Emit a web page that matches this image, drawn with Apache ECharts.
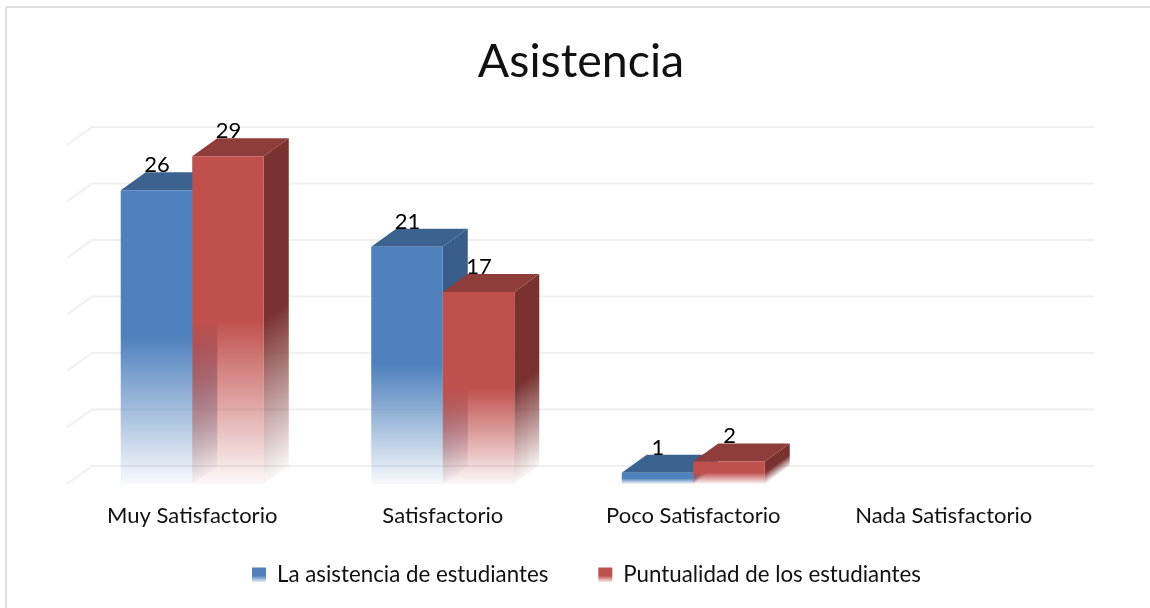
<!DOCTYPE html>
<html>
<head>
<meta charset="utf-8">
<style>html,body{margin:0;padding:0;background:#fff}#c{width:1150px;height:608px}</style>
<script src="https://cdn.jsdelivr.net/npm/echarts@6/dist/echarts.min.js"></script>
</head>
<body>
<div id="c"></div>
<script>
var titleText = 'Asistencia';
var categories = ['Muy Satisfactorio', 'Satisfactorio', 'Poco Satisfactorio', 'Nada Satisfactorio'];
var asistencia = [26, 21, 1, null];
var puntualidad = [29, 17, 2, null];
var wallTicks = [0, 5, 10, 15, 20, 25, 30];
var seriesNames = ['La asistencia de estudiantes', 'Puntualidad de los estudiantes'];

var DX = 25, DY = -18, BAR = 0.2855;
var FONT = 'Lato, "Open Sans", sans-serif';
var LG = echarts.graphic.LinearGradient;

function rgba(c, a) { return 'rgba(' + c[0] + ',' + c[1] + ',' + c[2] + ',' + a + ')'; }
function fade(c) {
  return [{offset: 0, color: rgba(c, 1)}, {offset: 0.5, color: rgba(c, 1)}, {offset: 1, color: rgba(c, 0.04)}];
}

function barRenderer(offsetIndex, front, side, top) {
  return function (params, api) {
    var v = api.value(1);
    if (v == null || isNaN(v)) return null;
    var i = api.value(0);
    var band = api.size([1, 0])[0];
    var w = band * BAR;
    var c = api.coord([i, v]);
    var b = api.coord([i, 0]);
    var x1 = c[0] + (offsetIndex - 1) * w;
    var x2 = x1 + w;
    var yt = c[1], yb = b[1];
    var h = yb - yt;
    // side-face fade runs across the diagonal bottom edge
    var nx = -DY, ny = DX, nl = Math.sqrt(nx * nx + ny * ny);
    nx /= nl; ny /= nl;
    var d = h * ny;
    var sideFill = new LG(x2, yt, x2 + nx * d, yt + ny * d, fade(side), true);
    return {
      type: 'group',
      children: [
        {type: 'polygon', shape: {points: [[x1, yt], [x1 + DX, yt + DY], [x2 + DX, yt + DY], [x2, yt]]}, style: {fill: rgba(top, 1)}},
        {type: 'polygon', shape: {points: [[x2, yt], [x2 + DX, yt + DY], [x2 + DX, yb + DY], [x2, yb]]}, style: {fill: sideFill}},
        {type: 'rect', shape: {x: x1, y: yt, width: w, height: h},
          style: {fill: new LG(0, 0, 0, 1, fade(front))}},
        {type: 'text', z2: 100, style: {text: String(v), x: x1 + w / 2 + 0.5, y: yt - 25, fill: '#000',
          font: '22px ' + FONT, textAlign: 'center', textVerticalAlign: 'middle'}}
      ]
    };
  };
}

var blue = [79, 129, 189], blueDark = [56, 93, 138], blueTop = [60, 98, 144];
var red = [192, 80, 77], redDark = [122, 50, 48], redTop = [143, 61, 58];

var option = {
  animation: false,
  backgroundColor: '#fff',
  title: {text: titleText, left: 576, top: 33, textAlign: 'center',
    textStyle: {fontFamily: FONT, fontSize: 46.5, fontWeight: 'normal', color: '#111'}},
  grid: {left: 67, top: 145, width: 1002, height: 339, containLabel: false},
  xAxis: {type: 'category', data: categories, axisLine: {show: false}, axisTick: {show: false},
    axisLabel: {margin: 21, fontFamily: FONT, fontSize: 22, color: '#111'}},
  yAxis: {type: 'value', min: 0, max: 30, interval: 5, axisLine: {show: false}, axisTick: {show: false},
    axisLabel: {show: false}, splitLine: {show: false}},
  legend: {left: 247, top: 559, itemWidth: 14, itemHeight: 15, itemGap: 50, icon: 'rect',
    textStyle: {fontFamily: FONT, fontSize: 22.3, color: '#111', padding: [0, 0, 0, 6]},
    data: seriesNames},
  graphic: [
    {type: 'line', silent: true, shape: {x1: 6, y1: 7, x2: 1150, y2: 7}, style: {stroke: '#E0E0E0', lineWidth: 2}},
    {type: 'line', silent: true, shape: {x1: 6, y1: 7, x2: 6, y2: 608}, style: {stroke: '#DEDEDE', lineWidth: 2}}
  ],
  series: [
    {
      type: 'custom', silent: true, z: 1, legendHoverLink: false,
      data: wallTicks.map(function (t) { return [0, t]; }),
      encode: {x: 0, y: 1},
      renderItem: function (params, api) {
        var band = api.size([1, 0])[0];
        var p = api.coord([0, api.value(1)]);
        var x0 = p[0] - band / 2;
        return {type: 'polyline',
          shape: {points: [[x0, p[1]], [x0 + DX, p[1] + DY], [x0 + band * categories.length + DX, p[1] + DY]]},
          style: {fill: null, stroke: '#F0F0F0', lineWidth: 2}};
      }
    },
    {
      name: seriesNames[0], type: 'custom', z: 2,
      data: asistencia.map(function (v, i) { return [i, v]; }), encode: {x: 0, y: 1},
      itemStyle: {color: new LG(0, 0, 0, 1, [{offset: 0, color: rgba(blue, 1)}, {offset: 0.55, color: rgba(blue, 1)}, {offset: 1, color: rgba(blue, 0.05)}])},
      renderItem: barRenderer(0, blue, blueDark, blueTop)
    },
    {
      name: seriesNames[1], type: 'custom', z: 3,
      data: puntualidad.map(function (v, i) { return [i, v]; }), encode: {x: 0, y: 1},
      itemStyle: {color: new LG(0, 0, 0, 1, [{offset: 0, color: rgba(red, 1)}, {offset: 0.55, color: rgba(red, 1)}, {offset: 1, color: rgba(red, 0.05)}])},
      renderItem: barRenderer(1, red, redDark, redTop)
    }
  ]
};
var chart = echarts.init(document.getElementById('c'), null, {renderer: 'canvas'});
chart.setOption(option);
</script>
</body>
</html>
